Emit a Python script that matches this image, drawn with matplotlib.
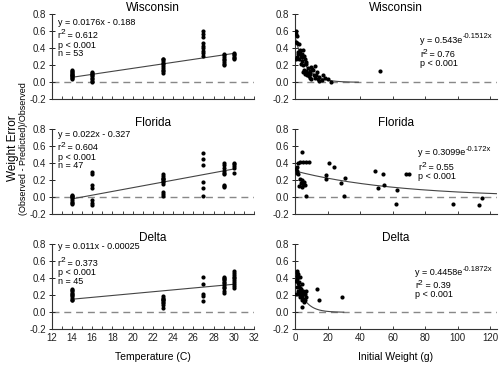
import numpy as np
import matplotlib
matplotlib.use("Agg")
import matplotlib.pyplot as plt
from matplotlib.ticker import MultipleLocator, FormatStrFormatter

plt.rcParams['font.family'] = ['Liberation Sans', 'DejaVu Sans']
plt.rcParams['axes.unicode_minus'] = False

regions = ["Wisconsin", "Florida", "Delta"]

# ---- Temperature panels: (temperature, error) ----
wi_temp_x = [14]*11 + [16]*9 + [23]*10 + [27]*9 + [29]*8 + [30]*6
wi_temp_y = [0.04, 0.05, 0.06, 0.07, 0.08, 0.09, 0.10, 0.11, 0.12, 0.13, 0.14,
             0.00, 0.02, 0.04, 0.05, 0.07, 0.08, 0.10, 0.11, 0.12,
             0.11, 0.13, 0.15, 0.17, 0.19, 0.21, 0.23, 0.25, 0.27, 0.28,
             0.60, 0.57, 0.53, 0.46, 0.43, 0.40, 0.37, 0.34, 0.31,
             0.20, 0.22, 0.24, 0.26, 0.28, 0.30, 0.32, 0.33,
             0.27, 0.29, 0.30, 0.32, 0.33, 0.35]

fl_temp_x = [14]*9 + [16]*7 + [23]*11 + [27]*6 + [29]*9 + [30]*5
fl_temp_y = [0.03, 0.02, 0.01, 0.00, -0.01, -0.03, -0.05, -0.07, -0.08,
             0.30, 0.28, 0.14, 0.11, -0.03, -0.07, -0.09,
             0.27, 0.25, 0.23, 0.22, 0.21, 0.19, 0.18, 0.16, 0.06, 0.04, 0.02,
             0.52, 0.45, 0.38, 0.18, 0.11, 0.01,
             0.40, 0.38, 0.34, 0.31, 0.29, 0.27, 0.15, 0.13, 0.12,
             0.40, 0.39, 0.37, 0.35, 0.29]

de_temp_x = [14]*10 + [23]*9 + [27]*5 + [29]*11 + [30]*10
de_temp_y = [0.27, 0.26, 0.25, 0.23, 0.21, 0.20, 0.19, 0.17, 0.15, 0.14,
             0.19, 0.17, 0.16, 0.15, 0.14, 0.12, 0.11, 0.09, 0.05,
             0.42, 0.33, 0.22, 0.19, 0.13,
             0.41, 0.40, 0.39, 0.38, 0.36, 0.34, 0.32, 0.30, 0.28, 0.25, 0.23,
             0.49, 0.46, 0.44, 0.42, 0.40, 0.38, 0.36, 0.33, 0.31, 0.29]

# linear fits (slope, intercept)
lin_slope = [0.0176, 0.022, 0.011]
lin_inter = [-0.188, -0.327, -0.00025]
lin_eq = ["y = 0.0176x - 0.188", "y = 0.022x - 0.327", "y = 0.011x - 0.00025"]
lin_r2 = ["0.612", "0.604", "0.373"]
lin_p = ["p < 0.001", "p < 0.001", "p < 0.001"]
lin_n = ["n = 53", "n = 47", "n = 45"]
lin_text_y = [[0.700, 0.555, 0.435, 0.341],
              [0.735, 0.585, 0.470, 0.376],
              [0.778, 0.580, 0.467, 0.361]]

# ---- Initial weight panels: (weight, error) ----
wi_wt_x = [0.4, 0.8, 1.2, 0.6, 1.5, 2.5, 0.5, 1.0, 1.8, 2.2, 3.0, 3.5, 4.0, 4.5,
           5.0, 5.5, 6.0, 4.2, 3.8, 5.2, 6.5, 7.0, 5.8, 4.8, 6.2, 7.0, 7.5, 8.0,
           8.5, 9.0, 9.5, 10.0, 10.5, 11.0, 12.0, 11.5, 12.5, 13.0, 13.5, 14.0,
           15.0, 16.5, 17.5, 14.5, 18.5, 20.0, 22.0, 9.0, 10.0, 3.0, 2.0, 8.0, 52.5]
wi_wt_y = [0.60, 0.57, 0.54, 0.47, 0.46, 0.45, 0.27, 0.30, 0.33, 0.28, 0.35, 0.31,
           0.30, 0.33, 0.38, 0.31, 0.27, 0.25, 0.22, 0.20, 0.24, 0.21, 0.15, 0.12,
           0.10, 0.13, 0.08, 0.11, 0.07, 0.10, 0.13, 0.18, 0.16, 0.14, 0.19, 0.09,
           0.05, 0.08, 0.12, 0.04, 0.06, 0.03, 0.08, 0.02, 0.05, 0.04, 0.00, 0.05,
           0.04, 0.38, 0.36, 0.17, 0.13]

fl_wt_x = [1.0, 1.6, 1.4, 0.8, 3.0, 5.0, 7.0, 8.5, 4.0, 3.0, 3.6, 5.0, 4.0, 2.4,
           6.0, 7.0, 2.0, 1.2, 4.6, 5.4,
           21, 24, 19, 19, 28, 31, 30, 49, 51, 54, 55, 62, 63, 68, 70, 97, 113, 115]
fl_wt_y = [0.36, 0.40, 0.31, 0.33, 0.42, 0.42, 0.42, 0.41, 0.53, 0.21, 0.17, 0.15,
           0.12, 0.13, 0.15, 0.01, 0.28, 0.29, 0.20, 0.18,
           0.40, 0.36, 0.26, 0.21, 0.17, 0.23, 0.02, 0.31, 0.11, 0.28, 0.14, -0.08,
           0.08, 0.28, 0.27, -0.08, -0.09, -0.01]

de_wt_x = [1.0, 1.6, 2.0, 1.0, 3.0, 2.0, 4.0, 3.0, 1.6, 5.0, 2.0, 3.6, 6.0, 7.0,
           5.0, 6.0, 4.0, 4.4, 3.0, 1.0, 0.5, 2.5, 3.5, 4.5, 1.5, 2.8, 5.5, 0.8,
           2.2, 3.2, 6.5, 4.8, 1.2, 13.5, 14.5, 29.0]
de_wt_y = [0.49, 0.45, 0.42, 0.39, 0.41, 0.35, 0.33, 0.29, 0.25, 0.25, 0.21, 0.20,
           0.21, 0.25, 0.16, 0.14, 0.14, 0.06, 0.23, 0.43, 0.37, 0.31, 0.27, 0.19,
           0.30, 0.18, 0.12, 0.22, 0.36, 0.24, 0.18, 0.22, 0.46, 0.27, 0.15, 0.18]

# exponential fits: a * exp(-k x), drawn from 0 to x_end
exp_a = [0.543, 0.3099, 0.4458]
exp_k = [0.1512, 0.016, 0.1872]
exp_xend = [39, 124, 30]
exp_base = ["y = 0.543e", "y = 0.3099e", "y = 0.4458e"]
exp_pow = ["-0.1512x", "-0.172x", "-0.1872x"]
exp_r2 = ["0.76", "0.55", "0.39"]
exp_p = ["p < 0.001", "p < 0.001", "p < 0.001"]
exp_text_y = [[0.495, 0.325, 0.220],
              [0.523, 0.350, 0.247],
              [0.464, 0.315, 0.212]]
exp_text_x = [77, 76, 74]

temp_x = [wi_temp_x, fl_temp_x, de_temp_x]
temp_y = [wi_temp_y, fl_temp_y, de_temp_y]
wt_x = [wi_wt_x, fl_wt_x, de_wt_x]
wt_y = [wi_wt_y, fl_wt_y, de_wt_y]

FS = 6.5

fig = plt.figure(figsize=(5.0, 3.66), dpi=100)
bottoms = [0.7287, 0.4145, 0.1003]
h = 0.2322
axL_left, axL_w = 0.1034, 0.4046
axR_left, axR_w = 0.590, 0.403


def style(ax):
    ax.set_ylim(-0.2, 0.8)
    ax.yaxis.set_major_locator(MultipleLocator(0.2))
    ax.yaxis.set_major_formatter(FormatStrFormatter('%.1f'))
    for s in ['top', 'right']:
        ax.spines[s].set_visible(False)
    for s in ['left', 'bottom']:
        ax.spines[s].set_linewidth(0.8)
        ax.spines[s].set_color('#333333')
    ax.tick_params(axis='y', direction='inout', length=4, width=0.7,
                   labelsize=7, pad=2, colors='#222222')
    ax.tick_params(axis='x', which='both', direction='in', length=2, width=0.6,
                   labelsize=7, pad=3, colors='#222222')
    ax.axhline(0, color='#888888', lw=1.0, ls=(0, (5, 3.5)), zorder=1)


def r2_line(ax, x, y, val):
    t1 = ax.text(x, y, "r", fontsize=FS, va='center', ha='left')
    t2 = ax.annotate("2", xy=(0.9, 0.35), xycoords=t1, fontsize=6.0,
                     va='bottom', ha='left')
    ax.annotate(" = " + val, xy=(1, 0), xycoords=(t2, t1), fontsize=FS,
                va='bottom', ha='left')


for i in range(3):
    # temperature panel
    ax = fig.add_axes([axL_left, bottoms[i], axL_w, h])
    style(ax)
    ax.set_xlim(12, 32)
    ax.xaxis.set_major_locator(MultipleLocator(2))
    ax.xaxis.set_minor_locator(MultipleLocator(1))
    ax.scatter(temp_x[i], temp_y[i], s=9, color='black', zorder=3, linewidths=0)
    xs = np.array([14, 30])
    ax.plot(xs, lin_slope[i] * xs + lin_inter[i], color='#444444', lw=0.8, zorder=2)
    ax.set_title(regions[i], fontsize=8.5, pad=1.5)
    ty = lin_text_y[i]
    ax.text(12.6, ty[0], lin_eq[i], fontsize=FS, va='center', ha='left')
    r2_line(ax, 12.6, ty[1], lin_r2[i])
    ax.text(12.6, ty[2], lin_p[i], fontsize=FS, va='center', ha='left')
    ax.text(12.6, ty[3], lin_n[i], fontsize=FS, va='center', ha='left')
    if i < 2:
        ax.tick_params(axis='x', labelbottom=False)
    else:
        ax.set_xlabel("Temperature (C)", fontsize=7.5, labelpad=6)

    # initial weight panel
    ax = fig.add_axes([axR_left, bottoms[i], axR_w, h])
    style(ax)
    ax.set_xlim(0, 124)
    ax.xaxis.set_major_locator(MultipleLocator(20))
    ax.scatter(wt_x[i], wt_y[i], s=9, color='black', zorder=3, linewidths=0)
    xs = np.linspace(0, exp_xend[i], 200)
    ax.plot(xs, exp_a[i] * np.exp(-exp_k[i] * xs), color='#444444', lw=0.8, zorder=2)
    ax.set_title(regions[i], fontsize=8.5, pad=1.5)
    ty = exp_text_y[i]
    tb = ax.text(exp_text_x[i], ty[0], exp_base[i], fontsize=FS, va='center', ha='left')
    ax.annotate(exp_pow[i], xy=(1, 0.5), xycoords=tb, fontsize=5.5,
                va='bottom', ha='left')
    r2_line(ax, exp_text_x[i], ty[1], exp_r2[i])
    ax.text(exp_text_x[i], ty[2], exp_p[i], fontsize=FS, va='center', ha='left')
    if i < 2:
        ax.tick_params(axis='x', labelbottom=False)
    else:
        ax.set_xlabel("Initial Weight (g)", fontsize=7.5, labelpad=6)

fig.text(0.026, 0.595, "Weight Error", rotation=90, fontsize=8.5,
         ha='center', va='center')
fig.text(0.047, 0.595, "(Observed - Predicted)/Observed", rotation=90, fontsize=6.5,
         ha='center', va='center')

fig.savefig("out.png", dpi=100)
